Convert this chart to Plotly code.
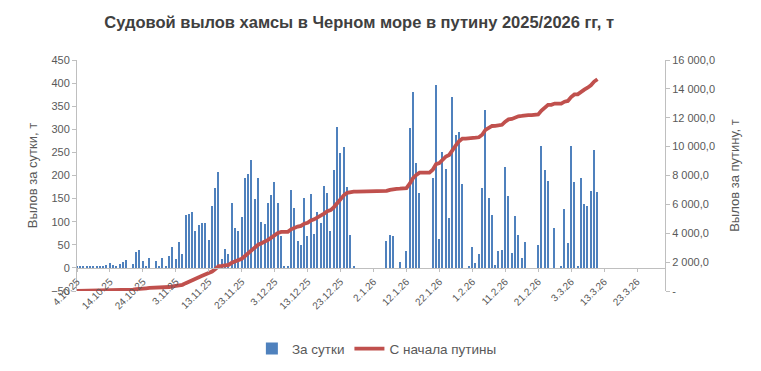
import pandas as pd
import plotly.graph_objects as go
from itertools import accumulate

start_date = "2025-10-04"
daily = [
    2, 4, 4, 2, 2, 2, 2, 2, 2, 6,
    11, 6, 4, 9, 13, 17, 0, 9, 35, 39,
    15, 2, 22, 0, 14, 2, 22, 2, 26, 46,
    20, 55, 31, 115, 117, 121, 80, 93, 97, 97,
    61, 133, 172, 208, 19, 41, 30, 141, 87, 80,
    110, 195, 203, 234, 149, 195, 100, 95, 141, 158,
    186, 141, 70, 4, 2, 169, 130, 58, 50, 151,
    69, 160, 74, 121, 97, 177, 162, 80, 212, 305,
    249, 262, 175, 71, 4, 0, 0, 0, 0, 0,
    0, 0, 0, 0, 58, 71, 69, 0, 13, 0,
    37, 303, 381, 227, 162, 0, 0, 0, 195, 396,
    63, 251, 214, 108, 370, 288, 294, 182, 0, 2,
    45, 11, 30, 173, 342, 151, 115, 6, 37, 39,
    218, 156, 32, 113, 71, 22, 56, 0, 0, 0,
    50, 264, 212, 188, 0, 87, 0, 2, 128, 54,
    264, 186, 2, 195, 138, 134, 167, 255, 164,
]
dates = pd.date_range(start_date, periods=len(daily), freq="D")
cumulative = list(accumulate(daily))

x_tick_dates = pd.date_range("2025-10-04", "2026-03-23", freq="10D")
x_tick_labels = ["4.10.25", "14.10.25", "24.10.25", "3.11.25", "13.11.25", "23.11.25",
                 "3.12.25", "13.12.25", "23.12.25", "2.1.26", "12.1.26", "22.1.26",
                 "1.2.26", "11.2.26", "21.2.26", "3.3.26", "13.3.26", "23.3.26"]
left_ticks = [-50, 0, 50, 100, 150, 200, 250, 300, 350, 400, 450]
right_ticks = [0, 2000, 4000, 6000, 8000, 10000, 12000, 14000, 16000]
right_tick_labels = ["-", "2 000,0", "4 000,0", "6 000,0", "8 000,0", "10 000,0",
                     "12 000,0", "14 000,0", "16 000,0"]

title = "Судовой вылов хамсы в Черном море в путину 2025/2026 гг, т"
name_daily = "За сутки"
name_cum = "С начала путины"

FONT = "Liberation Sans, Arial, sans-serif"
GREY = "#595959"
AXIS = "#BFBFBF"

fig = go.Figure()
fig.add_trace(go.Bar(
    x=dates, y=daily, name=name_daily,
    marker=dict(color="#4F81BD", line=dict(width=0)),
    width=0.42 * 86400000,
    yaxis="y",
))
fig.add_trace(go.Scatter(
    x=dates, y=cumulative, name=name_cum, mode="lines",
    line=dict(color="#C0504D", width=3.8),
    yaxis="y2",
))

fig.update_layout(
    width=761, height=371,
    margin=dict(l=77, r=96, t=60, b=80, autoexpand=False),
    paper_bgcolor="white", plot_bgcolor="white",
    font=dict(family=FONT, color=GREY, size=11),
    title=dict(text="<b>" + title + "</b>", x=0.472, xanchor="center",
               y=0.94, yanchor="middle", yref="container",
               font=dict(family=FONT, size=16.5, color="#404040")),
    showlegend=True,
    legend=dict(orientation="h", x=0.51, xanchor="center", y=-0.25, yanchor="middle",
                font=dict(size=13.5, color=GREY), traceorder="normal"),
    bargap=0,
    xaxis=dict(
        type="date", automargin=False,
        range=["2025-10-04", "2026-03-31 12:00"],
        tickvals=list(x_tick_dates), ticktext=x_tick_labels,
        tickangle=-45, tickfont=dict(size=10, color=GREY),
        showgrid=False, zeroline=False,
        showline=True, linecolor=AXIS, linewidth=1,
        ticks="outside", ticklen=3, tickcolor=AXIS,
        anchor="free", position=23 / 231,
    ),
    yaxis=dict(
        range=[-50, 450], tickvals=left_ticks, automargin=False,
        showgrid=False, zeroline=False,
        showline=True, linecolor=AXIS, linewidth=1,
        ticks="outside", ticklen=4, tickcolor=AXIS,
        tickfont=dict(size=11, color=GREY),
        title=dict(text="Вылов за сутки, т", font=dict(size=13, color=GREY), standoff=10),
    ),
    yaxis2=dict(
        range=[0, 16000], tickvals=right_ticks, ticktext=right_tick_labels,
        overlaying="y", side="right", automargin=False,
        showgrid=False, zeroline=False,
        showline=True, linecolor=AXIS, linewidth=1,
        ticks="outside", ticklen=4, tickcolor=AXIS,
        tickfont=dict(size=11, color=GREY),
        title=dict(text="Вылов за путину, т", font=dict(size=13, color=GREY), standoff=15),
    ),
)

fig.write_html("out.html", config={"displayModeBar": False},
               post_script="document.body.style.margin='0';")
